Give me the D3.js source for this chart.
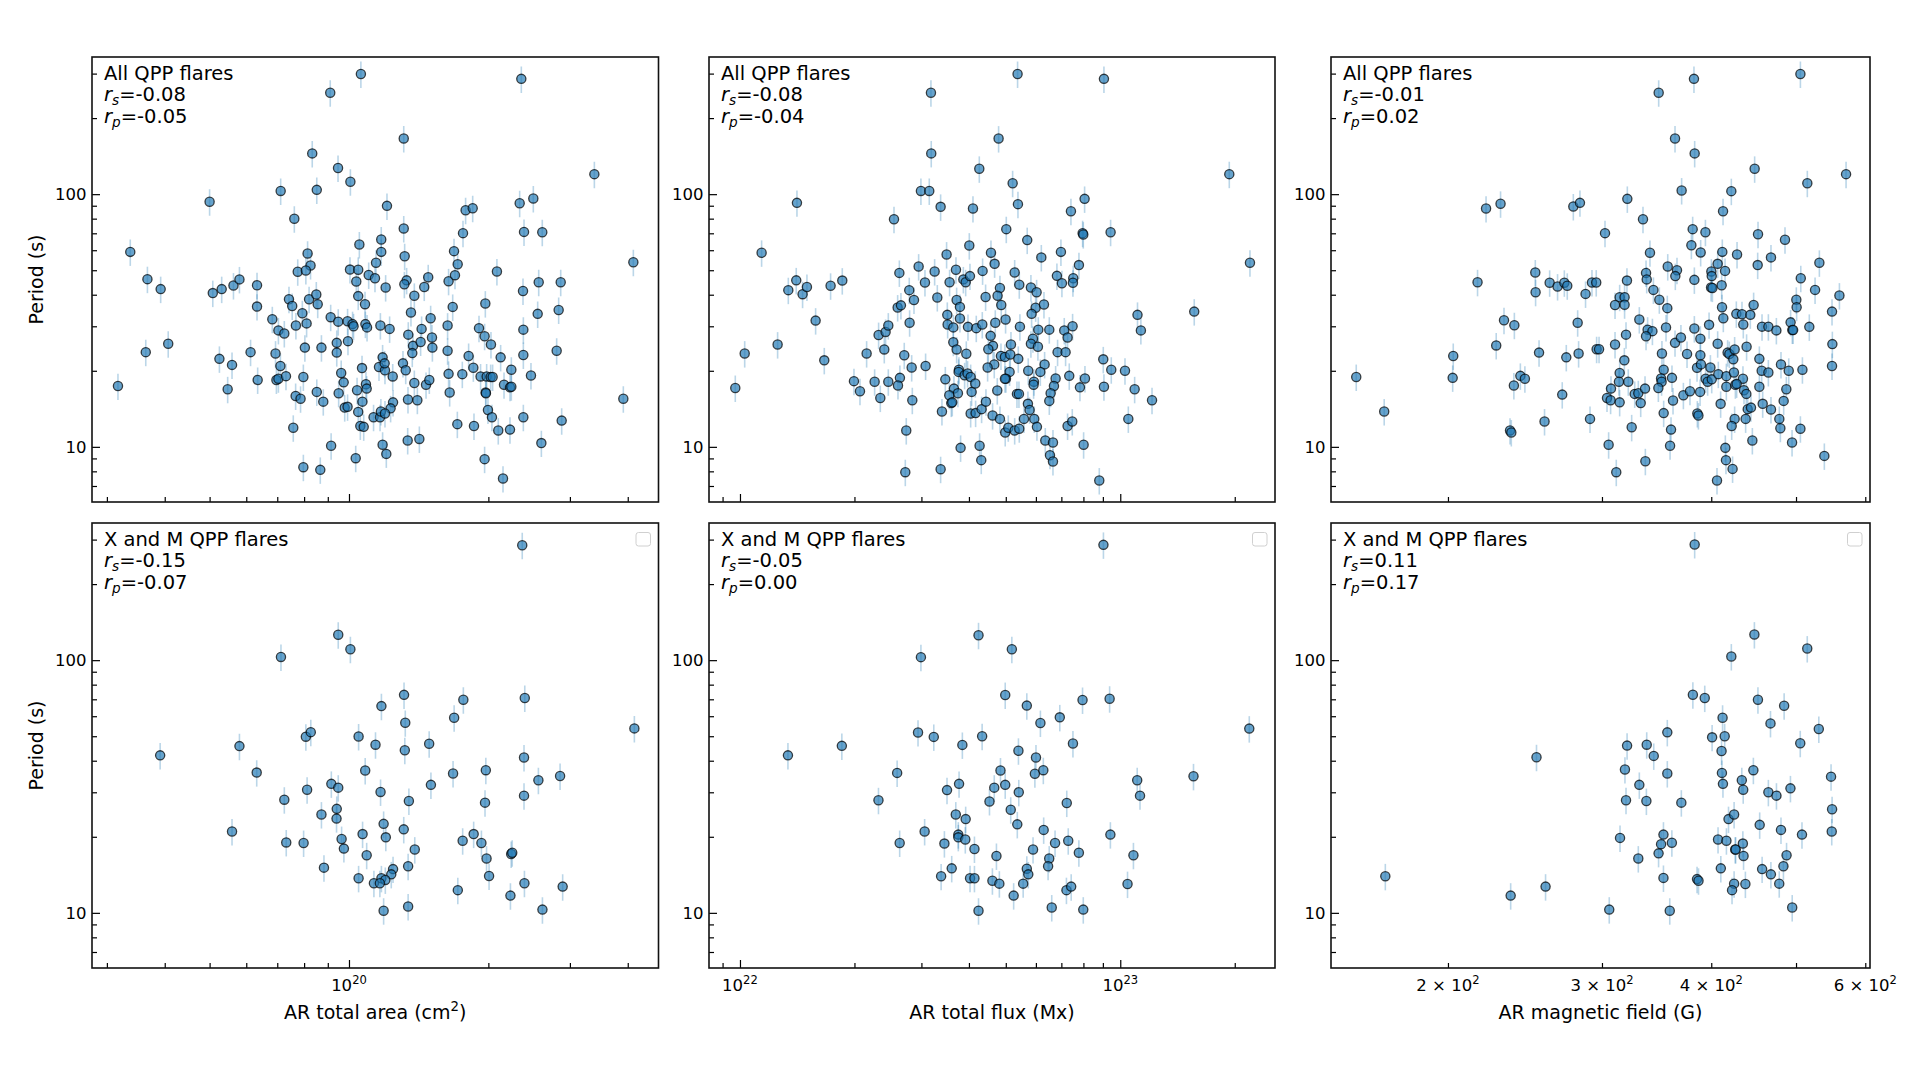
<!DOCTYPE html>
<html>
<head>
<meta charset="utf-8">
<script src="https://cdn.jsdelivr.net/npm/d3@7"></script>
<style>
  body { margin: 0; background: #fff; }
  text { font-family: "DejaVu Sans", sans-serif; fill: #000; }
</style>
</head>
<body>
<div id="graph_here"></div>
<script>
// each point is [x, period in s]
// area in 1e20 cm^2, flux in 1e22 Mx, field in G

const allArea = [
  [1.061,299],[0.911,252],[0.833,145],[0.947,127],[1.007,112],[0.712,103],[0.852,104],[0.500,93.3],[0.762,79.9],[0.337,59.1],
  [1.053,63.2],[0.814,58.2],[0.826,52.2],[0.775,49.3],[0.807,49.9],[1.005,50.3],[1.047,50.2],[1.037,45.1],[1.103,47.9],[0.367,46.1],
  [0.392,42.1],[0.508,40.6],[0.531,42.1],[0.563,43.5],[0.580,46.0],[0.633,43.6],[0.633,35.9],[0.742,38.4],[0.754,36.1],[0.820,38.4],
  [0.850,40.1],[0.856,36.7],[1.047,39.5],[1.083,36.7],[0.683,32.0],[0.704,28.9],[0.725,28.1],[0.768,30.2],[0.793,33.8],[0.810,30.8],
  [0.913,32.6],[0.948,31.3],[0.993,31.4],[1.018,30.6],[1.023,30.0],[1.085,30.6],[1.094,29.7],[0.407,25.6],[0.364,23.7],[0.525,22.3],
  [0.559,21.1],[0.613,23.7],[0.694,23.4],[0.711,20.9],[0.803,24.7],[0.872,24.7],[0.941,25.8],[0.941,23.6],[0.995,26.2],[0.317,17.4],
  [0.547,16.9],[0.635,18.4],[0.697,18.4],[0.704,18.6],[0.731,19.05],[0.797,18.9],[0.962,19.6],[0.974,18.0],[1.067,20.5],[1.088,17.7],
  [1.092,17.0],[1.041,16.75],[0.767,15.9],[0.786,15.5],[0.852,16.5],[0.880,15.1],[0.950,16.3],[0.979,14.3],[0.993,14.4],[1.069,15.1],
  [1.047,13.75],[1.058,12.1],[1.076,12.0],[0.758,11.9],[0.915,10.1],[1.034,9.02],[0.797,8.31],[0.867,8.11],
  [2.356,286],[1.313,166],[3.388,120],[2.501,96.1],[2.337,92.1],[1.208,89.9],[1.786,86.4],[1.850,88.0],[1.313,73.1],[2.388,70.9],
  [2.615,70.7],[1.763,70.1],[1.174,66.2],[1.174,59.1],[1.686,59.5],[1.144,53.5],[1.319,56.8],[1.717,52.8],[4.113,53.8],[2.087,49.4],
  [1.138,46.5],[1.332,45.6],[1.317,44.0],[1.483,46.9],[1.641,45.2],[1.694,47.8],[1.200,42.7],[1.454,42.9],[2.569,44.8],[2.866,44.8],
  [2.376,41.4],[1.384,39.6],[1.675,35.8],[1.970,36.9],[1.361,34.0],[2.556,33.6],[2.837,34.8],[1.169,30.2],[1.224,29.3],[1.343,27.8],
  [1.435,29.3],[1.501,32.3],[1.633,30.2],[1.909,29.5],[1.963,27.4],[2.026,25.4],[2.380,29.1],[1.375,25.1],[1.428,26.0],[1.511,27.1],
  [1.514,24.7],[1.370,23.5],[1.633,24.0],[2.126,22.6],[2.380,23.1],[2.809,24.0],[1.182,22.6],[1.161,20.7],[1.196,20.1],[1.194,21.4],
  [1.308,21.4],[1.326,20.1],[1.243,19.0],[1.813,22.9],[1.856,20.55],[1.641,19.45],[1.757,19.4],[1.924,19.0],[1.983,19.0],[2.023,18.9],
  [2.043,18.9],[2.242,20.2],[2.472,19.15],[1.384,17.9],[1.467,17.6],[1.491,18.4],[2.162,17.6],[2.227,17.2],[2.242,17.3],[1.650,16.4],
  [1.973,16.4],[1.976,16.3],[3.913,15.5],[1.341,15.4],[1.405,15.3],[1.245,15.0],[1.230,14.2],[1.130,13.1],[1.167,13.1],[1.172,13.8],
  [1.196,13.55],[1.996,14.0],[2.036,13.1],[2.380,13.1],[2.880,12.7],[1.714,12.3],[1.862,12.1],[2.101,11.6],[2.227,11.7],[1.182,10.2],
  [1.204,9.38],[1.339,10.6],[1.419,10.75],[2.603,10.35],[1.963,8.94],[2.151,7.49]
];

const allFlux = [
  [3.178,252],[3.184,145],[4.259,126],[2.991,103],[3.146,103],[1.412,92.4],[3.370,89.1],[4.099,87.7],[2.541,79.6],[1.140,58.6],
  [4.009,62.6],[3.494,57.7],[2.950,51.7],[2.625,48.8],[3.250,49.4],[3.698,50.2],[4.345,49.7],[3.065,44.7],[3.558,44.8],[3.867,46.0],
  [3.922,44.8],[4.025,47.4],[1.406,45.6],[1.340,41.7],[1.461,40.2],[1.500,42.9],[1.731,43.4],[1.858,45.5],[2.787,41.7],[2.868,38.1],
  [3.303,39.0],[3.713,38.1],[3.788,35.8],[4.425,39.2],[2.598,35.6],[2.650,36.3],[3.509,33.3],[3.788,32.2],[1.581,31.6],[2.315,27.7],
  [2.415,28.5],[2.455,30.2],[2.793,31.0],[3.516,30.5],[3.639,29.7],[3.977,29.85],[4.182,29.5],[4.337,30.5],[1.256,25.4],[1.029,23.4],
  [2.153,23.4],[2.396,24.3],[2.704,23.05],[3.639,25.95],[3.713,24.3],[3.937,23.35],[1.666,22.0],[2.828,20.6],[3.077,20.9],[3.765,20.2],
  [3.758,19.8],[3.897,19.2],[3.968,19.5],[4.042,18.9],[0.972,17.1],[1.994,18.2],[2.068,16.6],[2.260,18.1],[2.455,18.1],[2.339,15.6],
  [2.634,18.75],[2.603,17.5],[3.467,18.5],[3.653,17.0],[3.742,16.3],[3.551,16.0],[3.594,14.9],[3.616,15.0],[4.066,16.5],[4.157,17.8],
  [2.839,15.3],[3.397,13.8],[4.042,13.55],[4.165,13.6],[4.319,14.1],[4.434,15.1],[2.737,11.6],[3.803,9.91],[4.267,10.1],[4.310,8.86],
  [2.721,7.94],[3.370,8.16],
  [5.370,299],[9.059,286],[4.787,166],[19.35,120],[5.212,110.5],[8.058,95.8],[5.382,91.3],[7.418,85.6],[5.015,72.7],[7.962,70.1],
  [7.994,69.2],[9.432,70.7],[5.693,65.8],[4.571,58.6],[6.982,59.1],[6.200,56.2],[4.673,53.0],[7.786,52.4],[21.93,53.5],[5.276,49.0],
  [6.814,47.5],[7.024,44.4],[7.523,46.5],[7.508,44.6],[5.426,43.8],[4.826,42.5],[4.758,39.6],[5.822,42.7],[6.026,40.9],[4.865,36.4],
  [5.990,35.5],[5.846,33.6],[6.300,36.6],[11.10,33.3],[15.65,34.3],[4.692,31.0],[4.994,31.9],[5.447,29.9],[6.087,29.1],[6.507,29.1],
  [7.124,28.9],[7.493,30.0],[11.33,28.9],[4.561,27.5],[5.893,26.8],[7.269,27.1],[4.627,25.1],[4.498,24.35],[5.159,25.4],[5.822,25.6],
  [6.074,24.9],[6.842,23.7],[7.182,23.7],[4.856,22.9],[4.974,22.7],[5.138,23.2],[5.393,22.3],[4.663,21.2],[4.479,20.6],[6.325,21.2],
  [9.022,22.2],[5.117,19.8],[5.005,18.6],[4.974,18.6],[5.728,20.0],[6.163,19.8],[5.929,18.1],[5.917,17.6],[6.761,18.65],[6.693,17.4],
  [7.343,19.1],[8.075,18.65],[7.834,17.2],[9.470,20.2],[10.29,20.0],[9.059,17.3],[10.91,16.9],[4.749,16.7],[5.350,16.2],[5.415,16.2],
  [6.560,16.3],[6.507,15.2],[5.717,14.8],[5.775,14.0],[12.12,15.3],[4.616,13.3],[4.826,12.9],[5.582,12.9],[5.941,12.9],[6.038,12.0],
  [4.983,11.4],[5.076,11.9],[5.276,11.6],[5.426,11.8],[7.269,12.1],[7.478,12.6],[10.50,12.9],[6.351,10.6],[6.653,10.4],[8.010,10.2],
  [6.534,9.27],[6.653,8.75],[8.807,7.36]
];

const allField = [
  [221.1,87.7],[229.7,91.6],[278.2,89.4],[283.1,92.4],[216.2,44.8],[251.7,49.0],[251.9,40.9],[261.4,44.6],[266.9,43.1],[271.7,44.6],
  [273.8,43.4],[287.3,40.3],[292.2,44.7],[295.5,44.7],[231.8,31.7],[238.2,30.3],[281.4,31.0],[202.8,22.9],[227.1,25.2],[254.2,23.6],
  [273.1,22.6],[282.1,23.4],[295.8,24.35],[297.7,24.35],[157.1,18.9],[202.5,18.75],[237.9,17.5],[242.0,19.1],[244.9,18.6],[270.2,16.1],
  [169.1,13.8],[235.5,11.6],[236.3,11.4],[257.9,12.6],[290.7,12.9],
  [505.8,299],[382.2,286],[348.3,252],[363.6,166],[382.9,145],[448.4,126],[515.1,110.5],[570.4,120],[370.0,103.4],[421.7,102.8],
  [320.7,95.8],[412.6,85.6],[334.2,79.6],[302.4,70.1],[380.9,72.7],[393.9,70.7],[452.4,69.4],[485.7,66.0],[340.4,58.6],[379.6,62.8],
  [389.0,58.8],[411.8,59.1],[428.1,57.7],[468.1,56.2],[531.7,53.5],[356.7,51.7],[365.5,50.0],[363.9,47.4],[406.8,53.0],[414.8,49.7],
  [452.0,52.4],[336.9,48.8],[337.5,46.0],[320.4,45.5],[400.1,49.4],[400.5,47.4],[382.6,45.8],[506.3,46.5],[343.5,41.8],[399.8,42.7],
  [401.2,42.5],[411.1,43.6],[525.7,41.8],[314.3,39.1],[318.4,39.1],[310.5,36.4],[318.4,36.5],[348.9,38.2],[356.3,35.4],[411.5,35.7],
  [412.9,32.3],[447.2,36.4],[500.4,38.2],[500.8,35.7],[560.5,39.7],[549.7,34.3],[331.0,31.9],[427.3,33.6],[433.7,33.5],[443.3,33.3],
  [435.2,30.5],[492.9,31.1],[495.1,29.0],[496.2,29.0],[457.2,29.9],[464.9,29.9],[474.8,28.9],[517.8,29.85],[338.3,29.1],[342.6,28.7],
  [336.9,27.4],[355.1,29.7],[382.6,29.4],[397.7,30.4],[319.6,27.8],[310.5,25.4],[363.6,25.8],[369.3,27.1],[388.7,26.8],[406.8,25.6],
  [439.0,24.9],[550.2,25.5],[351.3,23.4],[375.3,23.3],[388.7,23.05],[417.6,23.6],[419.5,23.3],[425.4,24.3],[423.9,22.2],[454.0,22.3],
  [318.2,22.0],[314.3,19.6],[321.5,18.1],[313.7,18.1],[352.9,20.2],[350.5,18.65],[351.0,18.1],[360.7,18.75],[385.3,20.55],[389.3,21.2],
  [399.1,20.6],[394.1,18.6],[396.2,18.1],[400.5,18.5],[407.5,19.4],[416.2,19.05],[424.6,19.7],[434.8,18.6],[456.8,20.0],[464.9,19.7],
  [480.6,21.2],[490.5,20.0],[508.5,20.2],[549.7,20.9],[307.2,17.0],[304.0,15.6],[306.9,15.3],[314.3,15.0],[327.0,16.2],[330.1,16.3],
  [332.2,14.9],[336.0,17.0],[348.0,17.1],[371.7,16.0],[378.2,16.6],[388.4,16.5],[416.2,17.3],[426.2,17.6],[427.7,17.75],[436.0,16.75],
  [438.7,16.2],[454.0,17.3],[487.4,16.9],[484.0,15.2],[361.7,15.25],[352.9,13.6],[385.6,13.55],[386.7,13.3],[410.0,14.8],[440.3,14.1],
  [444.1,14.3],[458.0,14.8],[468.1,14.05],[425.4,12.9],[422.1,12.1],[437.9,12.9],[478.5,12.9],[479.8,11.85],[505.8,11.8],[324.4,11.95],
  [359.8,11.7],[305.3,10.2],[358.9,10.1],[415.1,9.91],[445.7,10.6],[494.8,10.4],[538.7,9.21],[336.3,8.77],[415.8,8.86],[423.1,8.18],
  [311.5,7.94],[406.1,7.36]
];

const xmArea = [
  [2.367,285],[0.948,126],[1.007,110.5],[0.713,103],[1.315,72.9],[1.766,69.7],[2.397,70.8],[1.175,65.8],[1.323,56.5],[1.687,59.2],
  [4.134,53.7],[0.807,49.8],[0.827,51.9],[1.049,49.9],[1.141,46.3],[1.490,46.7],[1.320,44.0],[0.580,45.7],[0.391,42.0],[2.388,41.2],
  [0.632,35.9],[1.084,36.6],[1.678,35.6],[1.975,36.7],[2.565,33.5],[2.857,34.8],[0.916,32.4],[0.948,31.3],[0.812,30.7],[0.725,28.05],
  [1.170,30.1],[1.503,32.1],[1.347,27.7],[1.967,27.3],[2.388,29.1],[0.941,25.8],[0.872,24.5],[0.940,23.6],[1.188,22.5],[1.313,21.4],
  [0.559,21.0],[1.070,20.5],[1.201,19.9],[1.859,20.5],[0.732,19.0],[0.798,18.9],[0.964,19.6],[1.760,19.3],[1.932,18.9],[0.975,17.96],
  [1.092,16.9],[1.387,17.8],[1.982,16.4],[2.240,17.1],[2.252,17.3],[0.883,15.1],[1.342,15.3],[1.245,14.9],[1.234,14.2],[1.049,13.7],
  [1.175,13.7],[1.198,13.5],[1.132,13.1],[1.166,13.1],[2.007,14.0],[2.393,13.1],[1.718,12.3],[2.894,12.7],[2.232,11.7],[1.188,10.2],
  [1.342,10.6],[2.617,10.3]
];

const xmFlux = [
  [9.031,286],[4.239,125.5],[5.187,110.5],[2.991,102.8],[4.983,72.8],[7.958,69.6],[9.376,70.4],[5.679,66.1],[6.166,56.4],[6.934,59.4],
  [21.84,53.6],[2.939,51.7],[3.233,49.7],[4.333,50.0],[1.853,45.8],[3.844,46.2],[7.509,46.8],[1.337,42.0],[5.398,43.8],[6.003,41.2],
  [2.590,35.8],[4.842,36.6],[5.963,35.5],[6.276,36.7],[15.58,34.7],[11.08,33.5],[3.768,32.4],[3.503,30.6],[4.663,31.3],[4.983,32.1],
  [5.409,30.0],[11.27,29.1],[2.313,27.9],[4.530,27.6],[7.233,27.2],[5.152,25.6],[3.694,24.5],[3.922,23.5],[5.361,22.4],[3.059,21.0],
  [6.289,21.3],[9.419,20.4],[2.630,18.9],[3.448,18.8],[3.751,20.4],[3.751,19.9],[3.913,19.5],[6.738,18.9],[7.298,19.3],[4.136,17.9],
  [5.897,17.8],[4.725,16.8],[6.504,16.4],[7.783,17.3],[10.83,16.9],[6.460,15.3],[3.604,15.0],[5.679,14.95],[5.730,14.2],[3.380,13.95],
  [4.027,13.7],[4.136,13.7],[4.611,13.4],[4.809,13.05],[5.555,13.05],[10.45,13.0],[7.219,12.3],[7.429,12.7],[5.244,11.7],[4.239,10.2],
  [6.604,10.5],[7.993,10.3]
];

const xmField = [
  [382.9,287],[448.1,126.3],[515.0,111.2],[421.7,103.4],[381.1,73.0],[393.2,70.8],[452.3,69.7],[484.6,66.0],[412.1,59.2],[467.5,56.2],
  [530.9,53.4],[356.3,51.8],[400.9,49.5],[414.4,50.0],[505.6,46.9],[320.5,45.9],[337.5,46.3],[343.8,41.8],[411.0,43.7],[252.5,41.3],
  [318.7,36.9],[356.3,35.6],[411.4,35.8],[446.9,36.7],[548.3,34.6],[331.0,32.1],[412.5,32.4],[433.5,33.5],[435.1,30.7],[464.9,30.0],
  [474.9,29.1],[492.7,31.1],[319.6,27.9],[337.2,27.7],[369.7,27.3],[418.6,23.5],[424.8,24.5],[549.8,25.7],[454.4,22.3],[480.6,21.3],
  [507.9,20.4],[549.3,21.0],[314.6,19.8],[352.7,20.4],[350.5,18.7],[360.6,18.95],[407.2,19.5],[416.3,19.3],[426.0,17.8],[426.6,17.8],
  [434.7,18.8],[435.5,16.8],[487.7,16.9],[330.1,16.4],[348.2,17.2],[410.2,15.0],[457.3,14.9],[468.0,14.2],[483.7,15.3],[169.6,13.95],
  [258.6,12.7],[235.9,11.7],[352.7,13.75],[385.3,13.6],[386.8,13.4],[424.8,13.05],[437.6,13.0],[422.5,12.3],[478.4,13.05],[305.8,10.3],
  [358.6,10.2],[495.0,10.5]
];

// period axis
const periodDomain = [6.05, 349];
const periodErrFrac = 0.12;
const yMajorTicks = [10, 100];
const yMinorTicks = [7, 8, 9, 20, 30, 40, 50, 60, 70, 80, 90, 200, 300];
const yTickLabels = ["10", "100"];

// x axes, one per column
const xDomains = [[0.2786, 4.661], [0.829, 25.52], [147.0, 607.5]];
const xMajorTicks = [[1], [1, 10], []];
const xMinorTicks = [
  [0.3, 0.4, 0.5, 0.6, 0.7, 0.8, 0.9, 2, 3, 4],
  [0.9, 2, 3, 4, 5, 6, 7, 8, 9, 20],
  [200, 300, 400, 500, 600]
];
const xTickLabels = [
  [{v: 1, parts: [{t: "10"}, {t: "20", sup: true}]}],
  [{v: 1, parts: [{t: "10"}, {t: "22", sup: true}]}, {v: 10, parts: [{t: "10"}, {t: "23", sup: true}]}],
  [{v: 200, parts: [{t: "2 \u00d7 10"}, {t: "2", sup: true}]},
   {v: 300, parts: [{t: "3 \u00d7 10"}, {t: "2", sup: true}]},
   {v: 400, parts: [{t: "4 \u00d7 10"}, {t: "2", sup: true}]},
   {v: 600, parts: [{t: "6 \u00d7 10"}, {t: "2", sup: true}]}]
];
const xTitles = [
  [{t: "AR total area (cm"}, {t: "2", sup: true}, {t: ")"}],
  [{t: "AR total flux (Mx)"}],
  [{t: "AR magnetic field (G)"}]
];

// annotations
const rowTitles = ["All QPP flares", "X and M QPP flares"];
const rsValues = [["-0.08", "-0.08", "-0.01"], ["-0.15", "-0.05", "0.11"]];
const rpValues = [["-0.05", "-0.04", "0.02"], ["-0.07", "0.00", "0.17"]];
const panelData = [[allArea, allFlux, allField], [xmArea, xmFlux, xmField]];

function drawPanels(){
    const width = 1920;
    const height = 1080;
    const colX = [[92, 658.5], [709, 1275], [1331, 1870]];
    const rowY = [[57, 502], [523, 968]];
    const tickFont = 16.5;
    const labelFont = 19;
    const noteFont = 19.5;

    const svg = d3.select('#graph_here')
        .append('svg')
        .attr('width', width)
        .attr('height', height)
        .style('background-color', 'white');

    // write text made of plain / superscript / subscript / italic parts
    function writeParts(sel, parts, size){
        let shift = 0;
        parts.forEach(p => {
            let target = 0;
            if (p.sup) target = -size * 0.42;
            if (p.sub) target = size * 0.22;
            sel.append('tspan')
                .attr('font-size', (p.sup || p.sub) ? size * 0.7 : size)
                .attr('font-style', p.it ? 'italic' : null)
                .attr('dy', target - shift)
                .text(p.t);
            shift = target;
        });
    }

    function tickAxis(g, axis, values, size){
        g.call(axis.tickValues(values).tickSize(-size).tickFormat(''));
        g.select('.domain').remove();
        g.selectAll('line').attr('stroke', '#000').attr('stroke-width', 1.2);
    }

    rowY.forEach((ry, r) => {
        colX.forEach((cx, c) => {
            const data = panelData[r][c];
            const x = d3.scaleLog().domain(xDomains[c]).range(cx);
            const y = d3.scaleLog().domain(periodDomain).range([ry[1], ry[0]]);
            const clipId = 'clip' + r + c;

            svg.append('clipPath').attr('id', clipId)
                .append('rect')
                .attr('x', cx[0]).attr('y', ry[0])
                .attr('width', cx[1] - cx[0]).attr('height', ry[1] - ry[0]);

            const plot = svg.append('g').attr('clip-path', 'url(#' + clipId + ')');

            // error bars
            plot.selectAll('line.err')
                .data(data)
                .enter()
                .append('line')
                .attr('x1', d => x(d[0]))
                .attr('x2', d => x(d[0]))
                .attr('y1', d => y(d[1] * (1 - periodErrFrac)))
                .attr('y2', d => y(d[1] * (1 + periodErrFrac)))
                .attr('stroke', '#1f77b4')
                .attr('stroke-opacity', 0.3)
                .attr('stroke-width', 1.6);

            plot.selectAll('circle')
                .data(data)
                .enter()
                .append('circle')
                .attr('cx', d => x(d[0]))
                .attr('cy', d => y(d[1]))
                .attr('r', 4.6)
                .attr('fill', '#1f77b4')
                .attr('fill-opacity', 0.68)
                .attr('stroke', '#000')
                .attr('stroke-opacity', 0.72)
                .attr('stroke-width', 1.3);

            // inward ticks
            const gx = svg.append('g').attr('transform', 'translate(0,' + ry[1] + ')');
            tickAxis(gx.append('g'), d3.axisBottom(x), xMinorTicks[c], 5);
            tickAxis(gx.append('g'), d3.axisBottom(x), xMajorTicks[c], 8);
            const gy = svg.append('g').attr('transform', 'translate(' + cx[0] + ',0)');
            tickAxis(gy.append('g'), d3.axisLeft(y), yMinorTicks, 5);
            tickAxis(gy.append('g'), d3.axisLeft(y), yMajorTicks, 8);

            yMajorTicks.forEach((v, i) => {
                svg.append('text')
                    .attr('x', cx[0] - 5.5)
                    .attr('y', y(v))
                    .attr('dy', '0.36em')
                    .attr('text-anchor', 'end')
                    .style('font-size', tickFont + 'px')
                    .text(yTickLabels[i]);
            });

            if (r === 1) {
                xTickLabels[c].forEach(lab => {
                    const t = svg.append('text')
                        .attr('x', x(lab.v))
                        .attr('y', ry[1] + 23)
                        .attr('text-anchor', 'middle')
                        .style('font-size', tickFont + 'px');
                    writeParts(t, lab.parts, tickFont);
                });
                const xt = svg.append('text')
                    .attr('x', (cx[0] + cx[1]) / 2)
                    .attr('y', ry[1] + 51)
                    .attr('text-anchor', 'middle')
                    .style('font-size', labelFont + 'px');
                writeParts(xt, xTitles[c], labelFont);

                // empty legend box
                svg.append('rect')
                    .attr('x', cx[1] - 22.5)
                    .attr('y', ry[0] + 9.5)
                    .attr('width', 14.5)
                    .attr('height', 13.5)
                    .attr('rx', 2.5)
                    .attr('fill', 'white')
                    .attr('stroke', '#d0d0d0')
                    .attr('stroke-width', 1);
            }

            // frame
            svg.append('rect')
                .attr('x', cx[0]).attr('y', ry[0])
                .attr('width', cx[1] - cx[0]).attr('height', ry[1] - ry[0])
                .attr('fill', 'none')
                .attr('stroke', '#111')
                .attr('stroke-width', 1.6);

            // annotation text
            const tx = cx[0] + 12;
            svg.append('text').attr('x', tx).attr('y', ry[0] + 22.5)
                .style('font-size', noteFont + 'px')
                .text(rowTitles[r]);
            const t1 = svg.append('text').attr('x', tx).attr('y', ry[0] + 44.2)
                .style('font-size', noteFont + 'px');
            writeParts(t1, [{t: 'r', it: true}, {t: 's', it: true, sub: true}, {t: '=' + rsValues[r][c]}], noteFont);
            const t2 = svg.append('text').attr('x', tx).attr('y', ry[0] + 66)
                .style('font-size', noteFont + 'px');
            writeParts(t2, [{t: 'r', it: true}, {t: 'p', it: true, sub: true}, {t: '=' + rpValues[r][c]}], noteFont);
        });

        // y axis title
        const cy = (ry[0] + ry[1]) / 2;
        svg.append('text')
            .attr('transform', 'translate(36,' + cy + ') rotate(-90)')
            .attr('text-anchor', 'middle')
            .attr('dy', '0.35em')
            .style('font-size', labelFont + 'px')
            .text('Period (s)');
    });
}

window.addEventListener('load', drawPanels);
</script>
</body>
</html>
